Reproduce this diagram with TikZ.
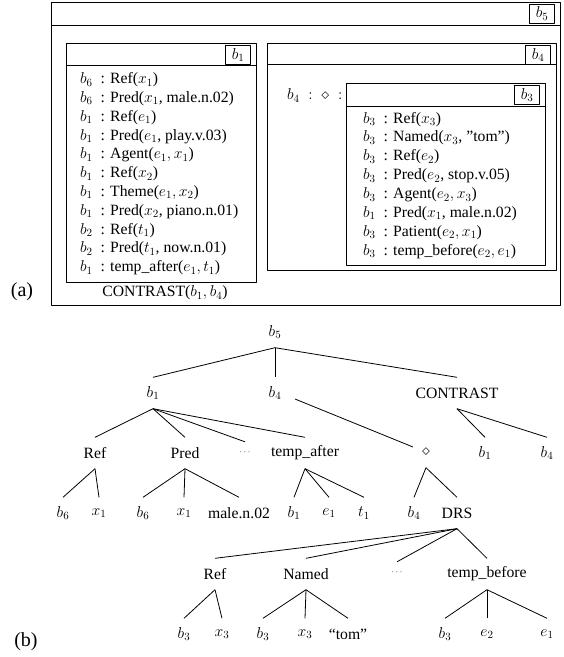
\RequirePackage{fix-cm}
\documentclass[tikz,border=0pt]{standalone}
\usepackage{fontspec}
\setmainfont{Liberation Serif}

\begin{document}
\begin{tikzpicture}[
  x=1pt,
  y=-1pt,
  line join=round,
  box/.style={draw,line width=0.8pt},
  tag/.style={draw,line width=0.8pt,anchor=north east,minimum width=25pt,
    minimum height=19pt,inner sep=1pt,font=\fontsize{15.7}{18.8}\selectfont},
  cond/.style={anchor=west,inner sep=0pt,font=\fontsize{15.7}{18.8}\selectfont},
  tn/.style={minimum height=31pt,inner sep=1pt,font=\fontsize{15.7}{18.8}\selectfont},
  tdots/.style={minimum height=20pt,inner sep=1pt,font=\fontsize{9}{10}\selectfont},
  branch/.style={draw,line width=0.8pt},
  panel/.style={inner sep=0pt,font=\fontsize{20}{24}\selectfont}
]
  \useasboundingbox (0,0) rectangle (564,657);

  % (a) outer box b5 with its header strip
  \draw[box] (51.5,2) rectangle (560.5,305);
  \draw[box] (51.5,25) -- (560.5,25);
  \node[tag] (tb5) at (555,3.5) {$b_5$};

  % Left sub-box b1 and its conditions.
  \draw[box] (66,43.5) rectangle (256.5,282);
  \draw[box] (66,65.7) -- (256.5,65.7);
  \node[tag] (tb1) at (251,45) {$b_1$};
  \foreach \txt [count=\i from 0] in {
    {$b_6$\enspace: Ref($x_1$)},
    {$b_6$\enspace: Pred($x_1$, male.n.02)},
    {$b_1$\enspace: Ref($e_1$)},
    {$b_1$\enspace: Pred($e_1$, play.v.03)},
    {$b_1$\enspace: Agent($e_1, x_1$)},
    {$b_1$\enspace: Ref($x_2$)},
    {$b_1$\enspace: Theme($e_1, x_2$)},
    {$b_1$\enspace: Pred($x_2$, piano.n.01)},
    {$b_2$\enspace: Ref($t_1$)},
    {$b_2$\enspace: Pred($t_1$, now.n.01)},
    {$b_1$\enspace: temp\_after($e_1, t_1$)}} {
    \node[cond] (cb1-\i) at (80,80+18.8*\i) {\txt};
  }
  \node[cond,anchor=center] (rel) at (165,293) {CONTRAST($b_1, b_4$)};

  % Right sub-box b4 holding the modal box b3.
  \draw[box] (267,43.5) rectangle (556.5,270);
  \draw[box] (267,64.5) -- (556.5,64.5);
  \node[tag] (tb4) at (551,45) {$b_4$};
  \node[cond] (modal) at (287,95.5) {$b_4\;:\;\diamond\;:$};
  \draw[box] (346.5,83.3) rectangle (545,265);
  \draw[box] (346.5,106) -- (545,106);
  \node[tag] (tb3) at (540,85) {$b_3$};
  \foreach \txt [count=\i from 0] in {
    {$b_3$\enspace: Ref($x_3$)},
    {$b_3$\enspace: Named($x_3$, ''tom'')},
    {$b_3$\enspace: Ref($e_2$)},
    {$b_3$\enspace: Pred($e_2$, stop.v.05)},
    {$b_3$\enspace: Agent($e_2, x_3$)},
    {$b_1$\enspace: Pred($x_1$, male.n.02)},
    {$b_3$\enspace: Patient($e_2, x_1$)},
    {$b_3$\enspace: temp\_before($e_2, e_1$)}} {
    \node[cond] (cb3-\i) at (363,119.3+18.9*\i) {\txt};
  }
  \node[panel] (pa) at (22,292) {(a)};

  % (b) the same structure as a tree
  \node[tn] (root) at (275,332) {$b_5$};
  \node[tn] (kb1) at (153,393) {$b_1$};
  \node[tn] (kb4) at (275,393) {$b_4$};
  \node[tn] (kcon) at (457,393) {CONTRAST};

  \node[tn] (kref) at (95,453) {Ref};
  \node[tn] (kpred) at (185,453) {Pred};
  \node[tdots] (kdots) at (245,452) {$\cdots$};
  \node[tn] (kafter) at (305,453) {temp\_after};
  \node[tn] (kdia) at (426,452) {$\diamond$};
  \node[tn] (kcb1) at (485,453) {$b_1$};
  \node[tn] (kcb4) at (547,453) {$b_4$};

  \node[tn] (l1) at (63,513) {$b_6$};
  \node[tn] (l2) at (99,513) {$x_1$};
  \node[tn] (l3) at (143,513) {$b_6$};
  \node[tn] (l4) at (184,513) {$x_1$};
  \node[tn] (l5) at (239,513) {male.n.02};
  \node[tn] (l6) at (294,513) {$b_1$};
  \node[tn] (l7) at (329,513) {$e_1$};
  \node[tn] (l8) at (364,513) {$t_1$};
  \node[tn] (l9) at (414,513) {$b_4$};
  \node[tn] (kdrs) at (457,513) {DRS};

  \node[tn] (kref2) at (215,574) {Ref};
  \node[tn] (knamed) at (306,574) {Named};
  \node[tdots] (kdots2) at (397,572) {$\cdots$};
  \node[tn] (kbefore) at (487,574) {temp\_before};

  \node[tn] (m1) at (184,634) {$b_3$};
  \node[tn] (m2) at (222,634) {$x_3$};
  \node[tn] (m3) at (263,634) {$b_3$};
  \node[tn] (m4) at (305,634) {$x_3$};
  \node[tn] (m5) at (348,634) {``tom''};
  \node[tn] (m6) at (445,634) {$b_3$};
  \node[tn] (m7) at (487,634) {$e_2$};
  \node[tn] (m8) at (547,634) {$e_1$};

  % branches
  \foreach \c in {kb1,kb4,kcon} \draw[branch] (root.south) -- (\c.north);
  \foreach \c in {kref,kpred,kdots,kafter} \draw[branch] (kb1.south) -- (\c.north);
  \draw[branch] ([shift={(20,6)}]kb4.center) -- ([shift={(-13,-5)}]kdia.center);
  \foreach \c in {kcb1,kcb4} \draw[branch] (kcon.south) -- (\c.north);
  \foreach \c in {l1,l2} \draw[branch] (kref.south) -- (\c.north);
  \foreach \c in {l3,l4,l5} \draw[branch] (kpred.south) -- (\c.north);
  \foreach \c in {l6,l7,l8} \draw[branch] (kafter.south) -- (\c.north);
  \foreach \c in {l9,kdrs} \draw[branch] (kdia.south) -- (\c.north);
  \foreach \c in {kref2,knamed,kdots2,kbefore} \draw[branch] (kdrs.south) -- (\c.north);
  \foreach \c in {m1,m2} \draw[branch] (kref2.south) -- (\c.north);
  \foreach \c in {m3,m4,m5} \draw[branch] (knamed.south) -- (\c.north);
  \foreach \c in {m6,m7,m8} \draw[branch] (kbefore.south) -- (\c.north);

  \node[panel] (pb) at (26,642) {(b)};
\end{tikzpicture}
\end{document}
